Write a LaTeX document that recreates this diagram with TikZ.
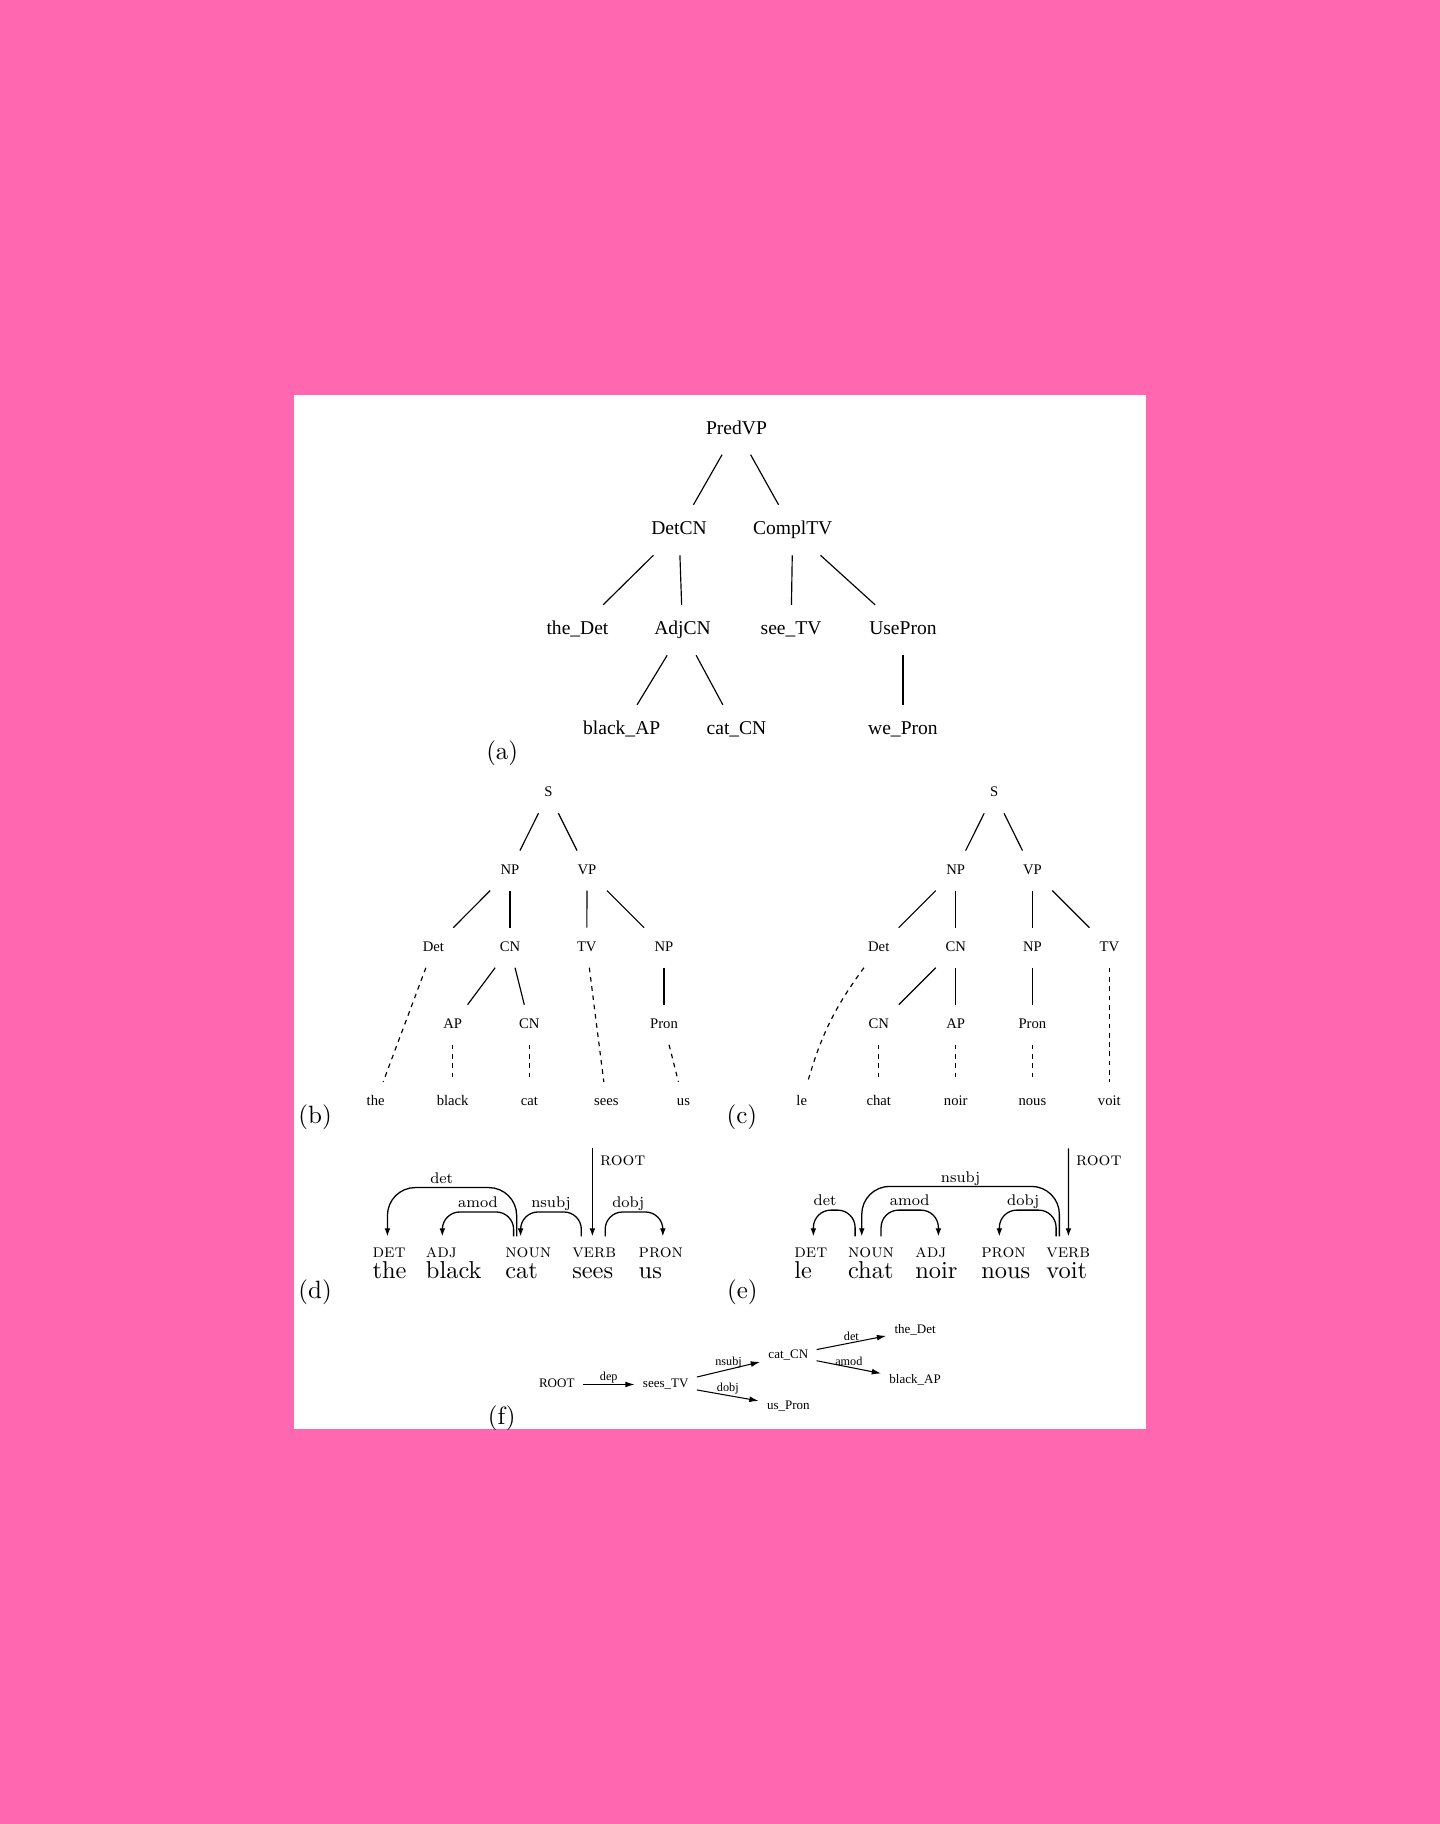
\documentclass[tikz,border=0pt]{standalone}
\usepackage{fontspec}
\newfontfamily\timesfont{Liberation Serif}
\newfontfamily\lmten{lmroman10-regular.otf}[SmallCapsFont=lmromancaps10-regular.otf]
\newfontfamily\lmeight{lmroman8-regular.otf}
\usetikzlibrary{arrows.meta}
\definecolor{pagepink}{RGB}{255,104,176}

\begin{document}
\begin{tikzpicture}[x=1pt, y=-1pt,
    treebig/.style={font=\timesfont\fontsize{16.8}{18}\selectfont, text height=11.5pt, text depth=3.5pt,
                    minimum width=70pt, minimum height=43pt, inner sep=0pt},
    treesmall/.style={font=\timesfont\fontsize{12.6}{14}\selectfont, text height=8.6pt, text depth=2.6pt,
                    minimum width=44pt, minimum height=34pt, inner sep=0pt},
    branch/.style={line width=1pt},
    leafline/.style={line width=1pt, dash pattern=on 4pt off 4pt},
    panel/.style={font=\lmten\fontsize{21.5}{24}\selectfont, inner sep=0pt},
    tag/.style={font=\lmten\fontsize{16}{18}\selectfont\scshape, anchor=base west, inner sep=0pt},
    word/.style={font=\lmten\fontsize{21}{24}\selectfont, anchor=base west, inner sep=0pt},
    deparc/.style={-{Latex[length=7pt,width=5pt]}, line width=1.1pt},
    deplabel/.style={font=\lmeight\fontsize{13.3}{15}\selectfont, above, pos=0.25, inner sep=0.5pt,
                     text height=9pt, text depth=2.7pt},
    rootlabel/.style={font=\lmten\fontsize{16}{18}\selectfont\scshape, anchor=north west, inner sep=6pt},
    gnode/.style={font=\timesfont\fontsize{11.2}{13}\selectfont, text height=8pt, text depth=2.5pt,
                  inner xsep=7pt, inner ysep=3pt},
    gedge/.style={-{Latex[length=8pt,width=5pt]}, line width=0.9pt},
    glabel/.style={font=\timesfont\fontsize{10.5}{12}\selectfont, midway, above, inner sep=1pt}]

    \useasboundingbox (0,0) rectangle (1238,1568.2);
    \fill[pagepink] (0,0) rectangle (1238,1568.2);
    \fill[white] (253,340) rectangle (985,1229);

    \begin{scope}
    \clip (253,340) rectangle (985,1229);

    % (a) abstract tree
    \node[treebig] (predvp) at (633.2,369.2) {PredVP};
    \node[treebig] (detcn) at (583.8,455.7) {DetCN};
    \node[treebig] (compltv) at (681.5,455.7) {ComplTV};
    \node[treebig] (thedet) at (496.5,541.7) {the\_Det};
    \node[treebig] (adjcn) at (586.8,541.7) {AdjCN};
    \node[treebig] (seetv) at (680.1,541.7) {see\_TV};
    \node[treebig] (usepron) at (776.3,541.7) {UsePron};
    \node[treebig] (blackap) at (534.5,627.7) {black\_AP};
    \node[treebig] (catcn) at (633.2,627.7) {cat\_CN};
    \node[treebig] (wepron) at (776.3,627.7) {we\_Pron};

    \draw[branch] (predvp) -- (detcn);
    \draw[branch] (predvp) -- (compltv);
    \draw[branch] (detcn) -- (thedet);
    \draw[branch] (detcn) -- (adjcn);
    \draw[branch] (compltv) -- (seetv);
    \draw[branch] (compltv) -- (usepron);
    \draw[branch] (adjcn) -- (blackap);
    \draw[branch] (adjcn) -- (catcn);
    \draw[branch] (usepron) -- (wepron);

    % (b) English parse tree
    \node[treesmall] (bS) at (471.5,682) {S};
    \node[treesmall] (bNP) at (438.5,748.5) {NP};
    \node[treesmall] (bVP) at (504.7,748.5) {VP};
    \node[treesmall] (bDet) at (372.6,814.8) {Det};
    \node[treesmall] (bCN) at (438.5,814.8) {CN};
    \node[treesmall] (bTV) at (504.5,814.8) {TV};
    \node[treesmall] (bNPo) at (570.9,814.8) {NP};
    \node[treesmall] (bAP) at (389.2,881) {AP};
    \node[treesmall] (bCNl) at (455.1,881) {CN};
    \node[treesmall] (bPron) at (570.9,881) {Pron};
    \node[treesmall] (bthe) at (323,947.3) {the};
    \node[treesmall] (bblack) at (389.2,947.3) {black};
    \node[treesmall] (bcat) at (455.1,947.3) {cat};
    \node[treesmall] (bsees) at (521.3,947.3) {sees};
    \node[treesmall] (bus) at (587.6,947.3) {us};

    \draw[branch] (bS) -- (bNP);
    \draw[branch] (bS) -- (bVP);
    \draw[branch] (bNP) -- (bDet);
    \draw[branch] (bNP) -- (bCN);
    \draw[branch] (bVP) -- (bTV);
    \draw[branch] (bVP) -- (bNPo);
    \draw[branch] (bCN) -- (bAP);
    \draw[branch] (bCN) -- (bCNl);
    \draw[branch] (bNPo) -- (bPron);
    \draw[leafline] (bDet) -- (bthe);
    \draw[leafline] (bAP) -- (bblack);
    \draw[leafline] (bCNl) -- (bcat);
    \draw[leafline] (bTV) -- (bsees);
    \draw[leafline] (bPron) -- (bus);

    % (c) French parse tree
    \node[treesmall] (cS) at (854.7,682) {S};
    \node[treesmall] (cNP) at (821.7,748.5) {NP};
    \node[treesmall] (cVP) at (887.6,748.5) {VP};
    \node[treesmall] (cDet) at (755.5,814.8) {Det};
    \node[treesmall] (cCN) at (821.7,814.8) {CN};
    \node[treesmall] (cNPo) at (887.6,814.8) {NP};
    \node[treesmall] (cTV) at (953.8,814.8) {TV};
    \node[treesmall] (cCNl) at (755.5,881) {CN};
    \node[treesmall] (cAP) at (821.7,881) {AP};
    \node[treesmall] (cPron) at (887.6,881) {Pron};
    \node[treesmall] (cle) at (689.3,947.3) {le};
    \node[treesmall] (cchat) at (755.5,947.3) {chat};
    \node[treesmall] (cnoir) at (821.7,947.3) {noir};
    \node[treesmall] (cnous) at (887.6,947.3) {nous};
    \node[treesmall] (cvoit) at (953.8,947.3) {voit};

    \draw[branch] (cS) -- (cNP);
    \draw[branch] (cS) -- (cVP);
    \draw[branch] (cNP) -- (cDet);
    \draw[branch] (cNP) -- (cCN);
    \draw[branch] (cVP) -- (cNPo);
    \draw[branch] (cVP) -- (cTV);
    \draw[branch] (cCN) -- (cCNl);
    \draw[branch] (cCN) -- (cAP);
    \draw[branch] (cNPo) -- (cPron);
    \draw[leafline] (cDet) to[bend right=10] (cle);
    \draw[leafline] (cCNl) -- (cchat);
    \draw[leafline] (cAP) -- (cnoir);
    \draw[leafline] (cPron) -- (cnous);
    \draw[leafline] (cTV) -- (cvoit);

    % (d) English dependencies
    \node[tag] (detD) at (320.1,1081) {det};
    \node[tag] (adjD) at (366,1081) {adj};
    \node[tag] (nounD) at (434.2,1081) {noun};
    \node[tag] (verbD) at (491.8,1081) {verb};
    \node[tag] (pronD) at (548.9,1081) {pron};
    \node[word] (theD) at (320.1,1099) {the};
    \node[word] (blackD) at (366,1099) {black};
    \node[word] (catD) at (434.2,1099) {cat};
    \node[word] (seesD) at (491.8,1099) {sees};
    \node[word] (usD) at (548.9,1099) {us};

    \draw[deparc, rounded corners=24pt] ([shift={(10,-18)}]nounD.base west) -- ++(0,-42)
        -| node[deplabel, pos=0.29] {det} ([shift={(13,-18)}]detD.base west);
    \draw[deparc, rounded corners=15pt] ([shift={(7.4,-18)}]nounD.base west) -- ++(0,-21)
        -| node[deplabel] {amod} ([shift={(14.3,-18)}]adjD.base west);
    \draw[deparc, rounded corners=15pt] ([shift={(8,-18)}]verbD.base west) -- ++(0,-21)
        -| node[deplabel] {nsubj} ([shift={(13.4,-18)}]nounD.base west);
    \draw[deparc, rounded corners=15pt] ([shift={(28.5,-18)}]verbD.base west) -- ++(0,-21)
        -| node[deplabel, pos=0.2] {dobj} ([shift={(21,-18)}]pronD.base west);
    \coordinate (rootD) at (509.3,987.4);
    \draw[deparc] (rootD) node[rootlabel] {root} -- ([shift={(17.5,-18)}]verbD.base west);

    % (e) French dependencies
    \node[tag] (detE) at (682.7,1081) {det};
    \node[tag] (nounE) at (728.9,1081) {noun};
    \node[tag] (adjE) at (786.8,1081) {adj};
    \node[tag] (pronE) at (843.5,1081) {pron};
    \node[tag] (verbE) at (899.4,1081) {verb};
    \node[word] (leE) at (682.7,1099) {le};
    \node[word] (chatE) at (728.9,1099) {chat};
    \node[word] (noirE) at (786.8,1099) {noir};
    \node[word] (nousE) at (843.5,1099) {nous};
    \node[word] (voitE) at (899.4,1099) {voit};

    \draw[deparc, rounded corners=15pt] ([shift={(6.3,-18)}]nounE.base west) -- ++(0,-22.6)
        -| node[deplabel, pos=0.36] {det} ([shift={(16.6,-18)}]detE.base west);
    \draw[deparc, rounded corners=24pt] ([shift={(11.4,-18)}]verbE.base west) -- ++(0,-43)
        -| node[deplabel] {nsubj} ([shift={(12,-18)}]nounE.base west);
    \draw[deparc, rounded corners=15pt] ([shift={(28.6,-18)}]nounE.base west) -- ++(0,-22.6)
        -| node[deplabel] {amod} ([shift={(20,-18)}]adjE.base west);
    \draw[deparc, rounded corners=15pt] ([shift={(8.6,-18)}]verbE.base west) -- ++(0,-22.6)
        -| node[deplabel, pos=0.29] {dobj} ([shift={(15.7,-18)}]pronE.base west);
    \coordinate (rootE) at (918.6,987.4);
    \draw[deparc] (rootE) node[rootlabel] {root} -- ([shift={(19.2,-18)}]verbE.base west);

    % (f) dependency graph
    \node[gnode] (groot) at (478.7,1190.3) {ROOT};
    \node[gnode] (gsees) at (572.4,1190.3) {sees\_TV};
    \node[gnode] (gcat) at (677.8,1165.1) {cat\_CN};
    \node[gnode] (gus) at (677.8,1208.9) {us\_Pron};
    \node[gnode] (gthe) at (786.8,1143.6) {the\_Det};
    \node[gnode] (gblack) at (786.8,1186.6) {black\_AP};

    \draw[gedge] (groot) -- node[glabel] {dep} (gsees);
    \draw[gedge] (gsees) -- node[glabel] {nsubj} (gcat);
    \draw[gedge] (gsees) -- node[glabel] {dobj} (gus);
    \draw[gedge] (gcat) -- node[glabel] {det} (gthe);
    \draw[gedge] (gcat) -- node[glabel] {amod} (gblack);

    % panel labels
    \node[panel] (labA) at (431.8,647.7) {(a)};
    \node[panel] (labB) at (270.9,960.5) {(b)};
    \node[panel] (labC) at (637.8,960.2) {(c)};
    \node[panel] (labD) at (270.9,1111) {(d)};
    \node[panel] (labE) at (638.3,1110.7) {(e)};
    \node[panel] (labF) at (431.4,1219.6) {(f)};
    \end{scope}
\end{tikzpicture}
\end{document}
